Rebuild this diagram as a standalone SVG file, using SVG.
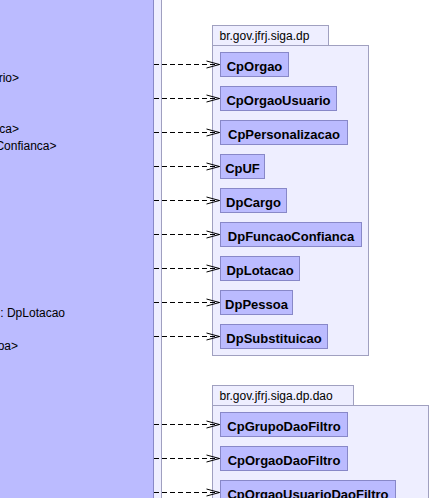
<svg xmlns="http://www.w3.org/2000/svg" width="431" height="498" viewBox="0 0 431 498">
<style>
.pkg{fill:#EEEEFF;stroke:#A0A0C0;stroke-width:1}
.cls{fill:#BBBBFF;stroke:#8888C8;stroke-width:1}
.cn{font-family:"Liberation Sans",Arial,sans-serif;font-size:13px;font-weight:bold;fill:#000;text-anchor:middle}
.pn{font-family:"Liberation Sans",Arial,sans-serif;font-size:12px;fill:#000}
.attr{font-family:"Liberation Sans",Arial,sans-serif;font-size:12px;fill:#000;text-anchor:end}
.dep{stroke:#000;stroke-width:1;fill:none;stroke-dasharray:5 3;marker-end:url(#open)}
</style>
<defs>
<marker id="open" markerUnits="userSpaceOnUse" markerWidth="20" markerHeight="12" viewBox="-16 -6 20 12" refX="0" refY="0" orient="auto" overflow="visible">
<path d="M-13,-3.5 L0,0 L-13,3.5" fill="none" stroke="#000" stroke-width="1" stroke-dasharray="none"/>
</marker>
</defs>
<rect x="0" y="0" width="431" height="498" fill="#FFFFFF"/>
<g id="pkg-outer">
<rect class="pkg" x="-10" y="-10" width="171.5" height="520"/>
</g>
<g id="class-main">
<rect class="cls" x="-10" y="-10" width="163.5" height="520"/>
<text class="attr" x="19" y="82">rio&gt;</text>
<text class="attr" x="19" y="133">ca&gt;</text>
<text class="attr" x="56.5" y="150">Confianca&gt;</text>
<text class="attr" x="65" y="317">: DpLotacao</text>
<text class="attr" x="18" y="350">oa&gt;</text>
</g>
<g id="pkg-dp">
<rect class="pkg" x="212.5" y="45.5" width="156" height="310"/>
<rect class="pkg" x="212.5" y="25.5" width="116" height="20"/>
<text class="pn" x="219.5" y="39.5">br.gov.jfrj.siga.dp</text>
</g>
<g id="pkg-dao">
<rect class="pkg" x="212.5" y="405.5" width="216" height="120"/>
<rect class="pkg" x="212.5" y="385.5" width="141" height="20"/>
<text class="pn" x="219.5" y="399.5">br.gov.jfrj.siga.dp.dao</text>
</g>
<g id="CpOrgao"><rect class="cls" x="220.5" y="52.5" width="68" height="24"/><text class="cn" x="254.5" y="71">CpOrgao</text></g>
<g id="CpOrgaoUsuario"><rect class="cls" x="220.5" y="86.5" width="116" height="24"/><text class="cn" x="278.5" y="105">CpOrgaoUsuario</text></g>
<g id="CpPersonalizacao"><rect class="cls" x="220.5" y="120.5" width="127" height="24"/><text class="cn" x="284" y="139">CpPersonalizacao</text></g>
<g id="CpUF"><rect class="cls" x="220.5" y="154.5" width="44" height="24"/><text class="cn" x="242.5" y="173">CpUF</text></g>
<g id="DpCargo"><rect class="cls" x="220.5" y="188.5" width="66" height="24"/><text class="cn" x="253.5" y="207">DpCargo</text></g>
<g id="DpFuncaoConfianca"><rect class="cls" x="220.5" y="222.5" width="141" height="24"/><text class="cn" x="291" y="241">DpFuncaoConfianca</text></g>
<g id="DpLotacao"><rect class="cls" x="220.5" y="256.5" width="79" height="24"/><text class="cn" x="260" y="275">DpLotacao</text></g>
<g id="DpPessoa"><rect class="cls" x="220.5" y="290.5" width="72" height="24"/><text class="cn" x="256.5" y="309">DpPessoa</text></g>
<g id="DpSubstituicao"><rect class="cls" x="220.5" y="324.5" width="107" height="24"/><text class="cn" x="274" y="343">DpSubstituicao</text></g>
<g id="CpGrupoDaoFiltro"><rect class="cls" x="220.5" y="412.5" width="127" height="24"/><text class="cn" x="284" y="431">CpGrupoDaoFiltro</text></g>
<g id="CpOrgaoDaoFiltro"><rect class="cls" x="220.5" y="446.5" width="127" height="24"/><text class="cn" x="284" y="465">CpOrgaoDaoFiltro</text></g>
<g id="CpOrgaoUsuarioDaoFiltro"><rect class="cls" x="220.5" y="480.5" width="175" height="24"/><text class="cn" x="308" y="499">CpOrgaoUsuarioDaoFiltro</text></g>
<g id="connectors">
<line class="dep" x1="154" y1="64.5" x2="219.5" y2="64.5"/>
<line class="dep" x1="154" y1="98.5" x2="219.5" y2="98.5"/>
<line class="dep" x1="154" y1="132.5" x2="219.5" y2="132.5"/>
<line class="dep" x1="154" y1="166.5" x2="219.5" y2="166.5"/>
<line class="dep" x1="154" y1="200.5" x2="219.5" y2="200.5"/>
<line class="dep" x1="154" y1="234.5" x2="219.5" y2="234.5"/>
<line class="dep" x1="154" y1="268.5" x2="219.5" y2="268.5"/>
<line class="dep" x1="154" y1="302.5" x2="219.5" y2="302.5"/>
<line class="dep" x1="154" y1="336.5" x2="219.5" y2="336.5"/>
<line class="dep" x1="154" y1="424.5" x2="219.5" y2="424.5"/>
<line class="dep" x1="154" y1="458.5" x2="219.5" y2="458.5"/>
<line class="dep" x1="154" y1="492.5" x2="219.5" y2="492.5"/>
</g>
</svg>
